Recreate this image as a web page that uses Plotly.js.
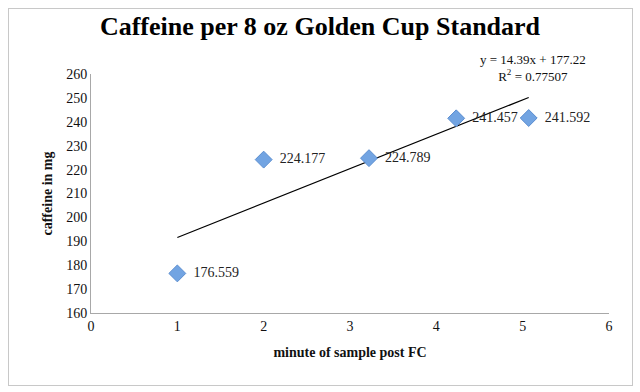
<!DOCTYPE html>
<html>
<head>
<meta charset="utf-8">
<script src="https://cdn.plot.ly/plotly-3.0.1.min.js"></script>
<style>
html,body{margin:0;padding:0;background:#fff;}
#wrap{position:relative;width:640px;height:392px;}
#chart{position:absolute;left:0;top:0;width:640px;height:392px;}
#frame{position:absolute;left:8px;top:8px;width:623px;height:376px;border:1px solid #c8c8c8;pointer-events:none;}
</style>
</head>
<body>
<div id="wrap"><div id="chart"></div><div id="frame"></div></div>
<script>
// Data
const minutes = [1, 2, 3.22, 4.23, 5.07];
const caffeine = [176.559, 224.177, 224.789, 241.457, 241.592];
const pointLabels = ['176.559', '224.177', '224.789', '241.457', '241.592'];
const trendSlope = 14.39;
const trendIntercept = 177.22;
const equationText = 'y = 14.39x + 177.22';
const rSquaredText = 'R<sup>2</sup> = 0.77507';
const xTicks = [0, 1, 2, 3, 4, 5, 6];
const yTicks = [160, 170, 180, 190, 200, 210, 220, 230, 240, 250, 260];

const xMin = Math.min(...minutes), xMax = Math.max(...minutes);
const trendX = [xMin, xMax];
const trendY = trendX.map(x => trendSlope * x + trendIntercept);

const serif = 'Liberation Serif, DejaVu Serif, serif';

const traces = [
  {
    x: trendX, y: trendY, type: 'scatter', mode: 'lines',
    line: {color: '#000', width: 1.2}, hoverinfo: 'skip', showlegend: false
  },
  {
    x: minutes, y: caffeine, type: 'scatter', mode: 'markers+text',
    text: pointLabels.map(t => '\u00a0\u00a0' + t), textposition: 'middle right',
    textfont: {family: serif, size: 14, color: '#222'},
    marker: {symbol: 'diamond', size: 13, color: '#72a4e2', line: {color: '#5a8dd0', width: 1}},
    showlegend: false
  }
];

const layout = {
  width: 640, height: 392,
  margin: {l: 91, r: 31, t: 74, b: 79},
  paper_bgcolor: '#fff', plot_bgcolor: '#fff',
  title: {
    text: '<b>Caffeine per 8 oz Golden Cup Standard</b>',
    font: {family: serif, size: 26, color: '#000'},
    x: 0.5, xanchor: 'center', y: 0.935, yanchor: 'middle'
  },
  xaxis: {
    range: [0, 6], tickvals: xTicks, ticktext: xTicks.map(String),
    showgrid: false, zeroline: false, showline: true, linecolor: '#a8a8a8', linewidth: 1,
    ticks: '', ticklen: 0,
    tickfont: {family: serif, size: 14, color: '#111'},
    title: {text: '<b>minute of sample post FC</b>', font: {family: serif, size: 14, color: '#111'}, standoff: 14}
  },
  yaxis: {
    range: [160, 260], tickvals: yTicks, ticktext: yTicks.map(String),
    showgrid: false, zeroline: false, showline: true, linecolor: '#a8a8a8', linewidth: 1,
    ticks: '', ticklen: 0,
    tickfont: {family: serif, size: 14, color: '#111'},
    title: {text: '<b>caffeine in mg</b>', font: {family: serif, size: 14, color: '#111'}, standoff: 10}
  },
  annotations: [
    {xref: 'paper', yref: 'paper', x: 0.853, y: 1.1, xanchor: 'center', yanchor: 'top',
     text: equationText + '<br>' + rSquaredText, showarrow: false, align: 'center',
     font: {family: serif, size: 13, color: '#111'}}
  ]
};

Plotly.newPlot('chart', traces, layout, {displayModeBar: false, staticPlot: true});
</script>
</body>
</html>
